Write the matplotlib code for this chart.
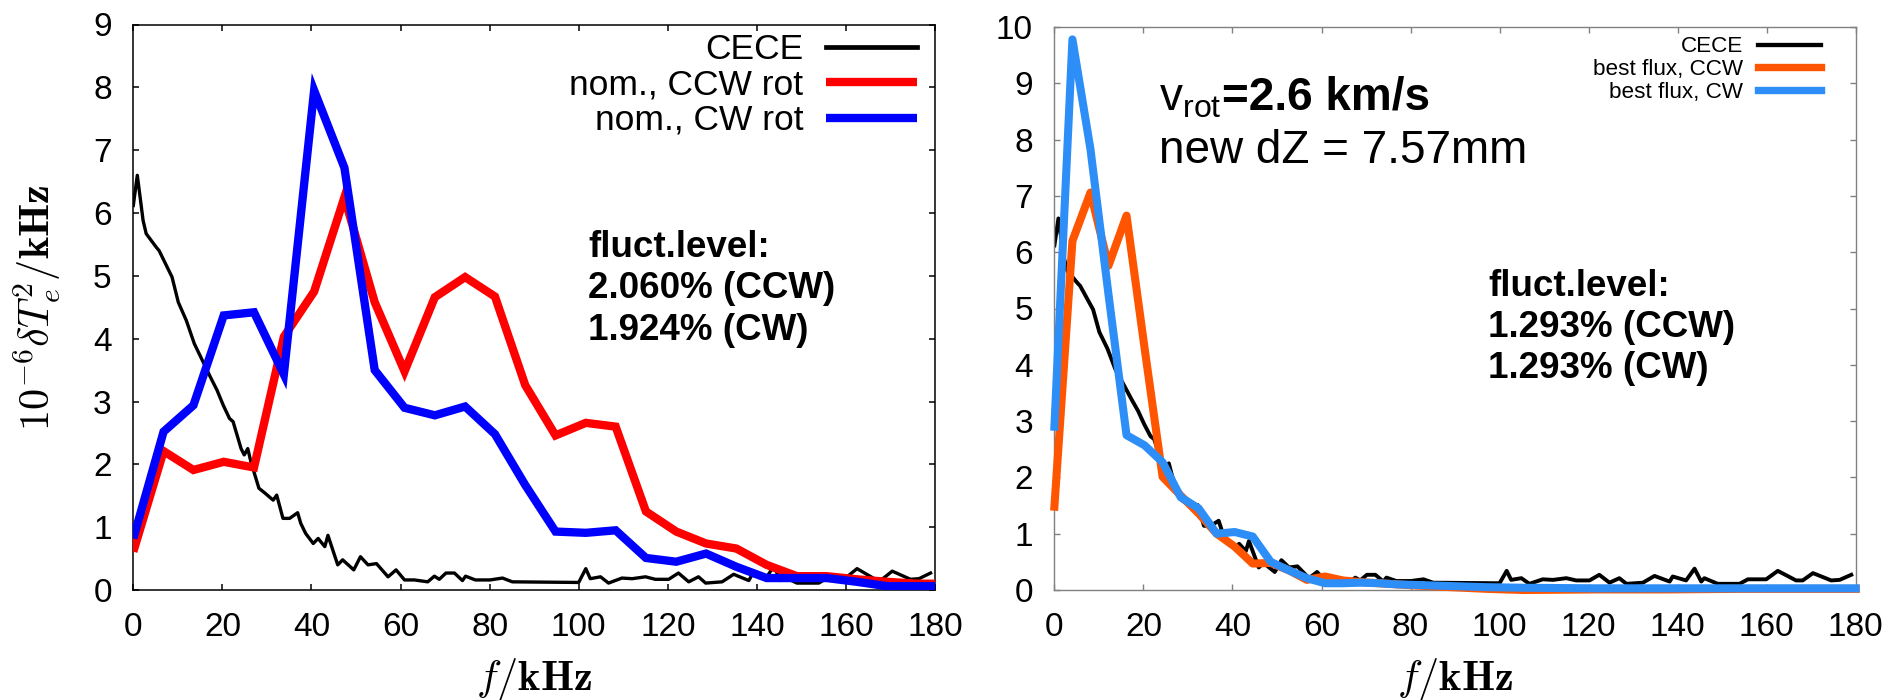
import matplotlib
matplotlib.use("Agg")
import matplotlib.pyplot as plt

plt.rcParams["font.family"] = ["Liberation Sans", "DejaVu Sans"]
plt.rcParams["mathtext.fontset"] = "custom"
plt.rcParams["mathtext.rm"] = "Liberation Sans"
plt.rcParams["mathtext.it"] = "Liberation Sans:italic"
plt.rcParams["mathtext.bf"] = "Liberation Sans:bold"

# ---------------- measured CECE spectrum (same in both panels) ----------------
f_cece = [0.0, 0.9, 2.2, 2.9, 5.1, 5.8, 8.7, 10.1, 11.9, 13.7, 17.3, 18.8, 20.2,
          21.6, 22.4, 24.2, 24.9, 25.7, 26.4, 28.2, 29.6, 31.4, 32.2, 33.6, 35.1,
          36.9, 37.6, 38.7, 40.4, 41.5, 43.0, 43.7, 45.9, 47.0, 49.5, 51.0, 52.7,
          54.6, 57.2, 59.0, 60.9, 63.1, 66.1, 67.6, 68.7, 70.2, 72.1, 73.9, 74.6,
          76.8, 80.1, 82.9, 85.1, 100.0, 101.6, 102.6, 104.9, 106.7, 109.7, 112.0,
          115.0, 117.2, 120.2, 122.4, 124.7, 126.9, 128.5, 132.2, 134.8, 138.2,
          138.9, 141.9, 143.8, 145.3, 146.0, 149.0, 153.9, 155.8, 159.9, 162.5,
          166.6, 168.1, 170.4, 174.5, 176.4, 179.0]
cece = [6.12, 6.60, 5.88, 5.67, 5.46, 5.40, 4.98, 4.58, 4.29, 3.92, 3.39, 3.18, 2.94,
        2.73, 2.68, 2.25, 2.15, 2.25, 2.04, 1.62, 1.54, 1.43, 1.51, 1.14, 1.14,
        1.23, 1.06, 0.90, 0.74, 0.82, 0.69, 0.87, 0.40, 0.48, 0.32, 0.53, 0.40,
        0.42, 0.21, 0.32, 0.16, 0.16, 0.13, 0.22, 0.17, 0.27, 0.27, 0.15, 0.22,
        0.16, 0.16, 0.19, 0.13, 0.12, 0.34, 0.18, 0.21, 0.11, 0.19, 0.18,
        0.21, 0.17, 0.17, 0.27, 0.13, 0.21, 0.11, 0.13, 0.25, 0.15,
        0.24, 0.17, 0.38, 0.15, 0.21, 0.11, 0.11, 0.19, 0.19, 0.34,
        0.17, 0.17, 0.30, 0.17, 0.18, 0.27]

# ---------------- nominal-flux synthetic spectra (left panel) ----------------
f_nom = [0.0, 6.8, 13.5, 20.3, 27.1, 33.8, 40.6, 47.4, 54.2, 60.9, 67.7, 74.5, 81.2,
         88.0, 94.8, 101.6, 108.3, 115.1, 121.9, 128.6, 135.4, 142.2, 149.0, 155.7,
         162.5, 169.3, 176.1, 180.0]
nom_ccw = [0.61, 2.21, 1.91, 2.04, 1.95, 4.03, 4.75, 6.25, 4.58, 3.48, 4.66, 4.98, 4.67,
           3.26, 2.46, 2.66, 2.60, 1.25, 0.93, 0.74, 0.66, 0.40, 0.22, 0.22,
           0.17, 0.13, 0.10, 0.10]
nom_cw = [0.82, 2.52, 2.94, 4.37, 4.42, 3.43, 7.95, 6.72, 3.50, 2.90, 2.78, 2.92, 2.48,
          1.67, 0.93, 0.91, 0.95, 0.51, 0.45, 0.58, 0.37, 0.19, 0.19, 0.19,
          0.13, 0.06, 0.06, 0.06]

# ---------------- best-flux synthetic spectra (right panel) ----------------
f_best = [0.0, 4.05, 8.1, 12.15, 16.2, 20.25, 24.3, 28.35, 32.4, 36.45, 40.5, 44.55,
          48.6, 52.65, 56.7, 60.75, 64.8, 68.85, 72.9, 76.95, 81.0, 89.1, 97.2,
          105.3, 121.5, 137.7, 153.9, 170.1, 180.0]
best_ccw = [1.48, 6.20, 7.06, 5.76, 6.65, 4.30, 2.01, 1.68, 1.36, 1.00, 0.77, 0.47,
            0.48, 0.35, 0.18, 0.24, 0.17, 0.14, 0.12, 0.10, 0.08, 0.05, 0.02,
            0.00, 0.01, 0.01, 0.02, 0.02, 0.02]
best_cw = [2.90, 9.78, 7.83, 5.25, 2.75, 2.57, 2.27, 1.65, 1.45, 1.00, 1.03, 0.95,
           0.50, 0.35, 0.21, 0.12, 0.12, 0.13, 0.12, 0.10, 0.09, 0.07, 0.05,
           0.04, 0.03, 0.03, 0.03, 0.03, 0.03]

x_ticks = [0, 20, 40, 60, 80, 100, 120, 140, 160, 180]
y_ticks_left = [0, 1, 2, 3, 4, 5, 6, 7, 8, 9]
y_ticks_right = [0, 1, 2, 3, 4, 5, 6, 7, 8, 9, 10]

W, H = 1895, 700
fig = plt.figure(figsize=(W / 100, H / 100), dpi=100)

axL = fig.add_axes([133.3 / W, 110 / H, 801.7 / W, 565.5 / H])
axR = fig.add_axes([1054.4 / W, 110 / H, 801.3 / W, 563.0 / H])

TICK_FS = 24
LABEL_FS = 30.5


def style_axes(ax, spine_color, spine_lw):
    for s in ax.spines.values():
        s.set_color(spine_color)
        s.set_linewidth(spine_lw)
    ax.tick_params(direction="in", length=4, width=spine_lw, color=spine_color,
                   top=True, right=True, labelsize=TICK_FS, pad=15.5)
    ax.set_xticks(x_ticks)
    ax.set_xlim(0, 180)


# left panel: nominal flux surface
axL.plot(f_cece, cece, color="black", lw=2.4, label="CECE", zorder=2)
axL.plot(f_nom, nom_ccw, color="#ff0000", lw=6, label="nom., CCW rot",
         solid_joinstyle="miter", solid_capstyle="butt", zorder=3)
axL.plot(f_nom, nom_cw, color="#0000ff", lw=6, label="nom., CW rot",
         solid_joinstyle="miter", solid_capstyle="butt", zorder=4)
style_axes(axL, "black", 1.1)
axL.set_ylim(0, 9)
axL.set_yticks(y_ticks_left)
axL.set_xlabel(r"$f/\mathbf{kHz}$", fontsize=LABEL_FS, math_fontfamily="cm",
               labelpad=10)
axL.set_ylabel(r"$\mathbf{10}^{-\mathbf{6}}\delta T_e^{\mathbf{2}}/\mathbf{kHz}$",
               fontsize=LABEL_FS, math_fontfamily="cm", labelpad=22)

legL = axL.legend(loc="upper right", bbox_to_anchor=(916.7 / W, 1 - 33 / H),
                  bbox_transform=fig.transFigure, frameon=False, markerfirst=False,
                  fontsize=25.5, handlelength=2.55, handletextpad=0.65,
                  labelspacing=0.07, borderpad=0, borderaxespad=0)
legL.get_lines()[0].set_linewidth(3.4)

# right panel: best flux surface
axR.plot(f_cece, cece, color="black", lw=2.8, label="CECE", zorder=2)
axR.plot(f_best, best_ccw, color="#ff5500", lw=5.8, label="best flux, CCW",
         solid_joinstyle="round", clip_on=False, zorder=3)
axR.plot(f_best, best_cw, color="#2d8ef7", lw=5.8, label="best flux, CW",
         solid_joinstyle="round", clip_on=False, zorder=4)
style_axes(axR, "#808080", 1.0)
axR.tick_params(labelcolor="black")
axR.set_ylim(0, 10)
axR.set_yticks(y_ticks_right)
axR.set_xlabel(r"$f/\mathbf{kHz}$", fontsize=LABEL_FS, math_fontfamily="cm",
               labelpad=10)

legR = axR.legend(loc="upper right", bbox_to_anchor=(1821 / W, 1 - 36.5 / H),
                  bbox_transform=fig.transFigure, frameon=False, markerfirst=False,
                  fontsize=16.2, handlelength=2.8, handletextpad=0.65,
                  labelspacing=0.07, borderpad=0, borderaxespad=0)
for ln, w in zip(legR.get_lines(), [3.1, 5.3, 5.3]):
    ln.set_linewidth(w)

# fluctuation-level annotations
FL_FS = 26.5
for txt, yb in [("fluct.level:", 256.7), ("2.060% (CCW)", 298.0), ("1.924% (CW)", 340.0)]:
    fig.text(588.3 / W, 1 - yb / H, txt, fontsize=FL_FS, fontweight="bold",
             ha="left", va="baseline")
for txt, yb in [("fluct.level:", 296.0), ("1.293% (CCW)", 337.0), ("1.293% (CW)", 378.0)]:
    fig.text(1488.3 / W, 1 - yb / H, txt, fontsize=FL_FS, fontweight="bold",
             ha="left", va="baseline")

# rotation velocity and vertical shift
t_v = fig.text(1159.3 / W, 1 - 110 / H, r"v$_{\mathrm{rot}}$", fontsize=33,
               ha="left", va="baseline")
fig.canvas.draw()
bb = t_v.get_window_extent(renderer=fig.canvas.get_renderer())
fig.text(bb.x1 / W, 1 - 110 / H, "=2.6 km/s", fontsize=33, fontweight="bold",
         ha="left", va="baseline")
fig.text(1159.3 / W, 1 - 163.3 / H, "new dZ = 7.57mm", fontsize=33,
         ha="left", va="baseline")

fig.savefig("out.png", dpi=100)
